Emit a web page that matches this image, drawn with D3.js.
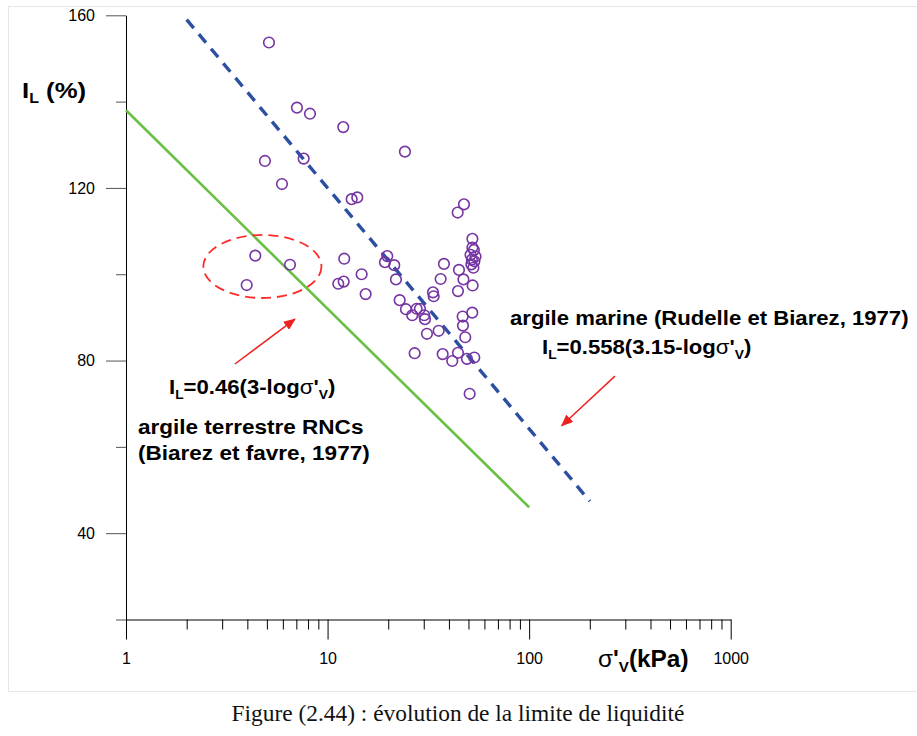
<!DOCTYPE html>
<html><head><meta charset="utf-8">
<script src="https://cdn.jsdelivr.net/npm/d3@7"></script>
<style>body{margin:0;background:#fff;} svg{display:block;}</style>
</head><body><svg id="chart" width="917" height="736"></svg>
<script>
// ---- data ----
const sigmaValues = [5.12,7.05,8.18,11.96,24.2,4.89,7.61,5.94,13.17,14.04,47.5,44.2,
  52.3,52.3,53.2,51.2,54.2,52.0,53.5,51.7,52.9,
  4.38,6.51,3.97,12.10,11.30,12.02,14.76,15.45,19.78,19.27,21.42,21.84,22.79,24.48,26.31,27.67,28.73,30.18,30.42,31.12,35.57,
  27.04,37.24,41.55,44.36,49.15,53.43,50.69,33.33,33.60,36.39,37.79,44.86,47.22,44.36,52.45,46.79,52.22,46.96,48.20];
const ilValues = [153.7,138.6,137.2,134.1,128.4,126.25,126.8,120.9,117.4,117.8,116.2,114.3,
  108.2,106.2,105.6,104.5,104.1,103.4,103.0,102.3,101.5,
  104.3,102.2,97.5,103.6,97.8,98.3,100.0,95.4,104.2,102.8,102.1,98.8,94.0,91.9,90.5,92.0,92.0,90.5,89.6,86.2,86.9,
  81.7,81.5,79.9,81.8,80.4,80.7,72.3,95.8,94.9,98.9,102.4,101.0,98.8,96.1,97.4,90.2,91.1,88.1,85.4];
// correlation lines (end points)
const terrestreSigma = [1, 100];
const terrestreIL = [138, 46];
const marineSigma = [2, 200];
const marineIL = [159, 47.4];
// axes
const xDomain = [1, 1000];
const yDomain = [20, 160];
const xMajorTicks = [1, 10, 100, 1000];
const yMajorTicks = [40, 80, 120, 160];
const yMinorTicks = [20, 60, 100, 140];
// annotations
const ellipseCenter = [4.75, 101.8];
const arrow1 = [[3.47, 79.2], [6.89, 89.6]];
const arrow2 = [[266.5, 76.4], [145, 64.9]];

const svg = d3.select("#chart");
const x = d3.scaleLog().domain(xDomain).range([126, 730.7]);
const y = d3.scaleLinear().domain(yDomain).range([619.5, 15.3]);
const bold = "'Liberation Sans', Arial, sans-serif";

// frame
svg.append("line").attr("x1",8).attr("x2",917).attr("y1",6.5).attr("y2",6.5).attr("stroke","#e6e6e6");
svg.append("line").attr("x1",8.5).attr("x2",8.5).attr("y1",6).attr("y2",692).attr("stroke","#e6e6e6");
svg.append("line").attr("x1",8).attr("x2",917).attr("y1",691.5).attr("y2",691.5).attr("stroke","#e6e6e6");

// y axis
const yAxisG = svg.append("g").attr("transform","translate(126,0)");
yAxisG.call(d3.axisLeft(y).tickValues(yMajorTicks).tickSize(20).tickSizeOuter(0).tickPadding(11).tickFormat(d3.format("d")));
const yMinorG = svg.append("g").attr("transform","translate(126,0)");
yMinorG.call(d3.axisLeft(y).tickValues(yMinorTicks).tickSize(10).tickSizeOuter(0).tickFormat(""));
yMinorG.select(".domain").remove();
[yAxisG,yMinorG].forEach(g=>{
  g.selectAll(".tick line").attr("stroke","#555");
  g.select(".domain").attr("stroke","#000");
  g.selectAll("text").attr("font-family",bold).attr("font-size",16).attr("fill","#000");
});

// x axis
const xAxisG = svg.append("g").attr("transform","translate(0,619.5)");
xAxisG.call(d3.axisBottom(x).tickValues(xMajorTicks).tickSize(20).tickSizeOuter(0).tickPadding(13).tickFormat(d3.format("d")));
const xMinorG = svg.append("g").attr("transform","translate(0,619.5)");
xMinorG.call(d3.axisBottom(x).tickValues(x.ticks().filter(v=>!xMajorTicks.includes(v))).tickSize(10).tickSizeOuter(0).tickFormat(""));
xMinorG.select(".domain").remove();
[xAxisG,xMinorG].forEach(g=>{
  g.selectAll(".tick line").attr("stroke","#000");
  g.select(".domain").attr("stroke","#000");
  g.selectAll("text").attr("font-family",bold).attr("font-size",16).attr("fill","#000");
});

// lines
const line = d3.line().x(d=>x(d[0])).y(d=>y(d[1]));
svg.append("path").datum(terrestreSigma.map((s,i)=>[s,terrestreIL[i]]))
  .attr("d",line).attr("fill","none").attr("stroke","#6abf45").attr("stroke-width",2.6);
svg.append("path").datum(marineSigma.map((s,i)=>[s,marineIL[i]]))
  .attr("d",line).attr("fill","none").attr("stroke","#2d4fa1").attr("stroke-width",3.4)
  .attr("stroke-dasharray","11,8");

// points
svg.append("g").selectAll("circle").data(sigmaValues.map((s,i)=>[s,ilValues[i]])).join("circle")
  .attr("cx",d=>x(d[0])).attr("cy",d=>y(d[1])).attr("r",5.3)
  .attr("fill","none").attr("stroke","#7535a3").attr("stroke-width",1.6);

// ellipse
const ex = x(ellipseCenter[0]), ey = y(ellipseCenter[1]);
svg.append("ellipse").attr("cx",ex).attr("cy",ey)
  .attr("rx", x(ellipseCenter[0]*Math.pow(10,0.293))-ex)
  .attr("ry", y(ellipseCenter[1]-7.3)-ey)
  .attr("fill","none").attr("stroke","#ff2a2a").attr("stroke-width",1.8).attr("stroke-dasharray","10,6");

// arrows
svg.append("defs").append("marker").attr("id","ah").attr("viewBox","0 0 12 10")
  .attr("refX",11).attr("refY",5).attr("markerWidth",12).attr("markerHeight",10)
  .attr("markerUnits","userSpaceOnUse").attr("orient","auto")
  .append("path").attr("d","M0,0L12,5L0,10Z").attr("fill","#ee2222");
[arrow1,arrow2].forEach(a=>{
  svg.append("line").attr("x1",x(a[0][0])).attr("y1",y(a[0][1])).attr("x2",x(a[1][0])).attr("y2",y(a[1][1]))
    .attr("stroke","#ee2222").attr("stroke-width",1.5).attr("marker-end","url(#ah)");
});

// text helpers
function richText(xp, yp, size, sx, parts){
  const t = svg.append("text").attr("transform",`translate(${xp},${yp}) scale(${sx},1)`)
    .attr("font-family",bold).attr("font-size",size).attr("fill","#000");
  parts.forEach(p=>{
    const ts = t.append("tspan").text(p.t).attr("font-weight", p.normal ? "normal" : "bold");
    if(p.sub){ ts.attr("font-size", size*0.62).attr("dy", size*0.22); }
    if(p.up){ ts.attr("dy", -size*0.22); }
  });
  return t;
}
richText(22, 98, 23, 1.12, [{t:"I"},{t:"L",sub:true},{t:" (%)",up:true}]);
richText(598, 667, 23, 1.06, [{t:"σ",normal:true},{t:"'"},{t:"V",sub:true},{t:"(kPa)",up:true}]);
richText(169, 394, 20.5, 1.08, [{t:"I"},{t:"L",sub:true},{t:"=0.46(3-log",up:true},{t:"σ",normal:true},{t:"'"},{t:"V",sub:true},{t:")",up:true}]);
richText(542, 354, 20.5, 1.08, [{t:"I"},{t:"L",sub:true},{t:"=0.558(3.15-log",up:true},{t:"σ",normal:true},{t:"'"},{t:"V",sub:true},{t:")",up:true}]);
richText(138, 434, 20.5, 1.1, [{t:"argile terrestre RNCs"}]);
richText(138, 460, 20.5, 1.1, [{t:"(Biarez et favre, 1977)"}]);
richText(510, 325, 20.5, 1.08, [{t:"argile marine (Rudelle et Biarez, 1977)"}]);

// caption
svg.append("text").attr("x",458).attr("y",721).attr("text-anchor","middle")
  .attr("font-family","'Liberation Serif','DejaVu Serif',serif").attr("font-size",23.4).attr("fill","#111")
  .text("Figure (2.44) : évolution de la limite de liquidité");
</script></body></html>
